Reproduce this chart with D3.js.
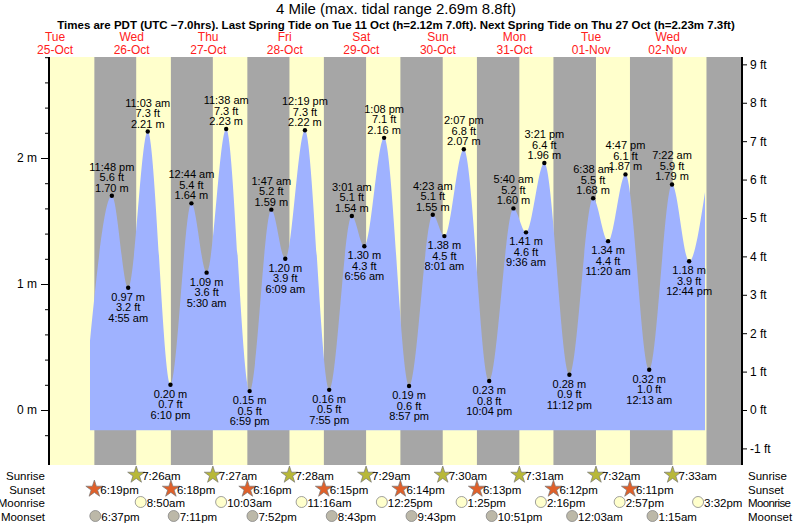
<!DOCTYPE html>
<html><head><meta charset="utf-8">
<script src="https://cdn.jsdelivr.net/npm/d3@7"></script>
<style>body{margin:0;background:#fff}text{font-family:"Liberation Sans",Arial,sans-serif}</style>
</head><body><svg id="c" width="793" height="525"></svg>
<script>
// hours measured from midnight 26-Oct (PDT)
const days = [{d:"Tue",t:"25-Oct"},{d:"Wed",t:"26-Oct"},{d:"Thu",t:"27-Oct"},{d:"Fri",t:"28-Oct"},{d:"Sat",t:"29-Oct"},{d:"Sun",t:"30-Oct"},{d:"Mon",t:"31-Oct"},{d:"Tue",t:"01-Nov"},{d:"Wed",t:"02-Nov"}];
// [dayIndex(0=25-Oct), time, metres, feet]
const extremes = [
 [0,"11:48 pm",1.70,5.6],[1,"4:55 am",0.97,3.2],[1,"11:03 am",2.21,7.3],[1,"6:10 pm",0.20,0.7],
 [2,"12:44 am",1.64,5.4],[2,"5:30 am",1.09,3.6],[2,"11:38 am",2.23,7.3],[2,"6:59 pm",0.15,0.5],
 [3,"1:47 am",1.59,5.2],[3,"6:09 am",1.20,3.9],[3,"12:19 pm",2.22,7.3],[3,"7:55 pm",0.16,0.5],
 [4,"3:01 am",1.54,5.1],[4,"6:56 am",1.30,4.3],[4,"1:08 pm",2.16,7.1],[4,"8:57 pm",0.19,0.6],
 [5,"4:23 am",1.55,5.1],[5,"8:01 am",1.38,4.5],[5,"2:07 pm",2.07,6.8],[5,"10:04 pm",0.23,0.8],
 [6,"5:40 am",1.60,5.2],[6,"9:36 am",1.41,4.6],[6,"3:21 pm",1.96,6.4],[6,"11:12 pm",0.28,0.9],
 [7,"6:38 am",1.68,5.5],[7,"11:20 am",1.34,4.4],[7,"4:47 pm",1.87,6.1],[8,"12:13 am",0.32,1.0],
 [8,"7:22 am",1.79,5.9],[8,"12:44 pm",1.18,3.9]];
const curveStart = [0,"4:57 pm",0.55];
const curveEnd = [8,"5:43 pm",1.73];
const sunrise = [[1,"7:26am"],[2,"7:27am"],[3,"7:28am"],[4,"7:29am"],[5,"7:30am"],[6,"7:31am"],[7,"7:32am"],[8,"7:33am"]];
const sunset = [[0,"6:19pm"],[1,"6:18pm"],[2,"6:16pm"],[3,"6:15pm"],[4,"6:14pm"],[5,"6:13pm"],[6,"6:12pm"],[7,"6:11pm"]];
const lastSunset = [8,"6:10pm"]; // shading only, not labelled
const moonrise = [[1,"8:50am"],[2,"10:03am"],[3,"11:16am"],[4,"12:25pm"],[5,"1:25pm"],[6,"2:16pm"],[7,"2:57pm"],[8,"3:32pm"]];
const moonset = [[0,"6:37pm"],[1,"7:11pm"],[2,"7:52pm"],[3,"8:43pm"],[4,"9:43pm"],[5,"10:51pm"],[7,"12:03am"],[8,"1:15am"]];
const mTicks = [0,1,2];
const ftTicks = [-1,0,1,2,3,4,5,6,7,8,9];

function hrs(day, s){
  const m = s.match(/(\d+):(\d+)\s*(am|pm)/);
  let h = +m[1] % 12; if (m[3]==="pm") h += 12;
  return (day-1)*24 + h + (+m[2])/60;
}
const svg = d3.select("#c");
const L=49, R=742, T=57, B=465;
const x = d3.scaleLinear().domain([-19.9,197.3]).range([L,R]);
const y = d3.scaleLinear().domain([0,2]).range([410,158]);
const yft = d3.scaleLinear().domain([0,9]).range([410,410-9*0.3048*126]);

svg.append("rect").attr("x",L).attr("y",T).attr("width",R-L).attr("height",B-T).attr("fill","#a6a6a6");
const srH = sunrise.map(d=>hrs(d[0],d[1])), ssH = [...sunset, lastSunset].map(d=>hrs(d[0],d[1]));
const dayspans = [[x.domain()[0], ssH[0]]];
srH.forEach((s,i)=>dayspans.push([s, ssH[i+1]]));
svg.selectAll(".day").data(dayspans).join("rect")
 .attr("x",d=>x(d[0])).attr("y",T).attr("width",d=>x(Math.min(d[1],x.domain()[1]))-x(d[0])).attr("height",B-T).attr("fill","#ffffcc");

const pts = [curveStart, ...extremes, curveEnd].map(d=>[hrs(d[0],d[1]), d[2]]);
const area = d3.area().x(d=>x(d[0])).y0(y(-0.16)).y1(d=>y(d[1])).curve(d3.curveMonotoneX);
svg.append("path").datum(pts).attr("d",area).attr("fill","#9fb2ff");

const ax = svg.append("g").attr("transform",`translate(${L},0)`)
 .call(d3.axisLeft(y).tickValues(d3.range(-0.2,2.81,0.2)).tickFormat(d=>{const r=Math.round(d*10)/10;return mTicks.includes(r)?r+" m":"";}).tickSize(5).tickSizeOuter(0));
ax.selectAll(".tick line").attr("x2",d=>mTicks.includes(Math.round(d*10)/10)?-8:-4);
const ax2 = svg.append("g").attr("transform",`translate(${R},0)`)
 .call(d3.axisRight(yft).tickValues(ftTicks).tickFormat(d=>d+" ft").tickSize(5).tickSizeOuter(0));
[ax,ax2].forEach(a=>{a.select(".domain").attr("d",`M0,${T}V${B}`).attr("stroke","#000").attr("stroke-width",2);
 a.selectAll("text").attr("font-size",12).attr("font-family","Liberation Sans,Arial");});
ax.selectAll("text").attr("x",-12);

const g = svg.append("g").attr("font-size",11).attr("text-anchor","middle").attr("fill","#000");
extremes.forEach((e,i)=>{
  const px=x(hrs(e[0],e[1])), py=y(e[2]);
  const prev = i>0?extremes[i-1][2]:0;
  const next = i<extremes.length-1?extremes[i+1][2]:0;
  const high = e[2]>prev && e[2]>next || (i===0);
  g.append("circle").attr("cx",px).attr("cy",py).attr("r",2.2);
  const lines = [e[2].toFixed(2)+" m", e[3].toFixed(1)+" ft", e[1]];
  lines.forEach((t,k)=>{
    g.append("text").attr("x",px).attr("y",high? py-4-k*10.5 : py+13+k*10.5).text(t);
  });
});

svg.append("text").attr("x",396).attr("y",14).attr("text-anchor","middle").attr("font-size",15).text("4 Mile (max. tidal range 2.69m 8.8ft)");
svg.append("text").attr("x",396).attr("y",29).attr("text-anchor","middle").attr("font-size",11.5).attr("font-weight","bold")
 .text("Times are PDT (UTC −7.0hrs). Last Spring Tide on Tue 11 Oct (h=2.12m 7.0ft). Next Spring Tide on Thu 27 Oct (h=2.23m 7.3ft)");
days.forEach((d,i)=>{
  const cx = x((i-1)*24+6);
  svg.append("text").attr("x",cx).attr("y",41).attr("text-anchor","middle").attr("font-size",12).attr("fill","#ff2020").text(d.d);
  svg.append("text").attr("x",cx).attr("y",54).attr("text-anchor","middle").attr("font-size",12).attr("fill","#ff2020").text(d.t);
});

const rows = [["Sunrise",476,sunrise,"star","#b8b838"],["Sunset",490,sunset,"star","#e0602a"],["Moonrise",503,moonrise,"circle","#ffffcc"],["Moonset",517,moonset,"circle","#bcb8a8"]];
const star = d3.symbol().type(d3.symbolStar).size(90);
rows.forEach(r=>{
  svg.append("text").attr("x",45).attr("y",r[1]+4).attr("text-anchor","end").attr("font-size",11.5).text(r[0]);
  svg.append("text").attr("x",748).attr("y",r[1]+4).attr("font-size",11.5).attr("textLength",r[0].length>7?43:null).text(r[0]);
  r[2].forEach(d=>{
    const px = x(hrs(d[0],d[1]));
    if (px>R) return;
    if (r[3]==="star") svg.append("path").attr("d",star).attr("transform",`translate(${px},${r[1]-1})`).attr("fill",r[4]).attr("stroke","#777").attr("stroke-width",0.7);
    else svg.append("circle").attr("cx",px).attr("cy",r[1]-1).attr("r",5.5).attr("fill",r[4]).attr("stroke","#888").attr("stroke-width",0.8);
    svg.append("text").attr("x",px+6).attr("y",r[1]+4).attr("font-size",11.5).text(d[1]);
  });
});
</script></body></html>
